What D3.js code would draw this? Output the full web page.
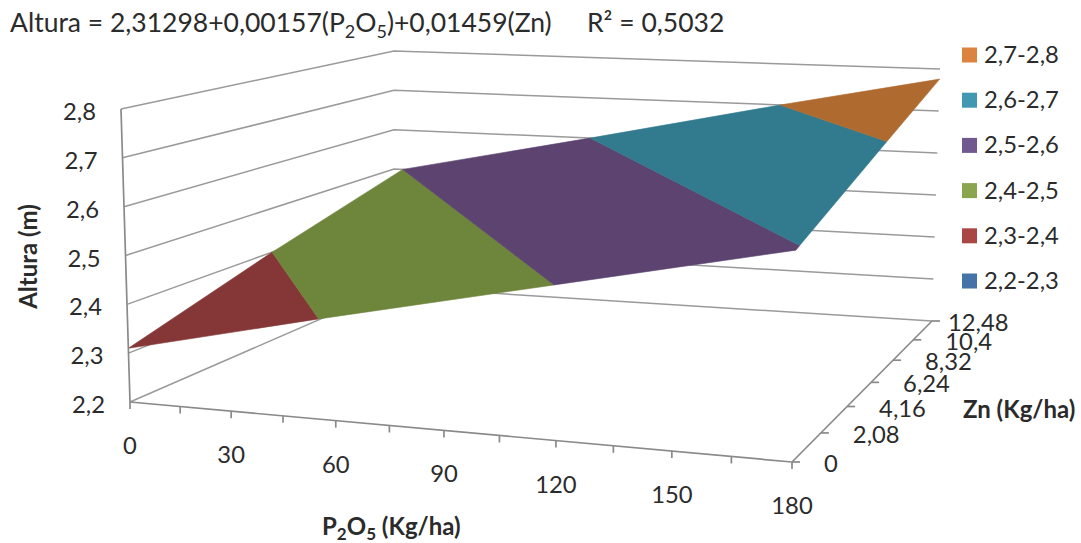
<!DOCTYPE html>
<html><head><meta charset="utf-8">
<style>
html,body{margin:0;padding:0;background:#fff;overflow:hidden}
svg{display:block}
text{font-family:Lato,"Open Sans",sans-serif;fill:#2b2b2b}
</style>
<script src="https://cdn.jsdelivr.net/npm/d3@7/dist/d3.min.js"></script>
</head><body><svg id="c" width="1081" height="543"></svg>
<script>
// ---- values ----
const pTicks = [0,15,30,45,60,75,90,105,120,135,150,165,180];
const pLabels = [0,30,60,90,120,150,180];
const znTicks = [0,2.08,4.16,6.24,8.32,10.4,12.48];
const znLabels = ["0","2,08","4,16","6,24","8,32","10,4","12,48"];
const alturaTicks = [2.2,2.3,2.4,2.5,2.6,2.7,2.8];
const alturaLabels = ["2,2","2,3","2,4","2,5","2,6","2,7","2,8"];
const legendLabels = ["2,7-2,8","2,6-2,7","2,5-2,6","2,4-2,5","2,3-2,4","2,2-2,3"];
const legendColors = ["#dc8340","#4298b0","#71588f","#89a54e","#aa4643","#4572a7"];
// surface bands: [P2O5, Zn, Altura] vertices
const band23 = [[0,0,2.31],[0,6.05,2.4],[56.7,0,2.4]];
const band24 = [[0,6.05,2.4],[3.2,12.48,2.5],[120.6,0,2.5],[56.7,0,2.4]];
const band25 = [[3.2,12.48,2.5],[69.3,12.48,2.6],[180,0.25,2.6],[180,0,2.596],[120.6,0,2.5]];
const band26 = [[69.3,12.48,2.6],[131.4,12.48,2.7],[180,7.11,2.7],[180,0.25,2.6]];
const band27 = [[131.4,12.48,2.7],[180,12.48,2.776],[180,7.11,2.7]];
const bands = [band23,band24,band25,band26,band27];
const bandColors = ["#853636","#6e853c","#5c4370","#327a8d","#af6a2f"];

// ---- layout ----
const floorQuad = [[130,402],[792,462],[932,321],[394,287]];
const ceilQuad  = [[121,109],[798,141],[940,69],[394,51]];
const frontPerspective = 0.902;
const svg=d3.select("#c");

const uScale=d3.scaleLinear().domain([0,180]).range([0,1]);
const vScale=d3.scaleLinear().domain([0,12.48]).range([0,1]);
const wScale=d3.scaleLinear().domain([2.2,2.8]).range([0,1]);

function homography(q){
  const [p00,p10,p11,p01]=q;
  const dx1=p10[0]-p11[0],dx2=p01[0]-p11[0],sx=p00[0]-p10[0]+p11[0]-p01[0];
  const dy1=p10[1]-p11[1],dy2=p01[1]-p11[1],sy=p00[1]-p10[1]+p11[1]-p01[1];
  const det=dx1*dy2-dx2*dy1;
  const g=(sx*dy2-dx2*sy)/det,h=(dx1*sy-sx*dy1)/det;
  const a=p10[0]-p00[0]+g*p10[0],b=p01[0]-p00[0]+h*p01[0];
  const d=p10[1]-p00[1]+g*p10[1],e=p01[1]-p00[1]+h*p01[1];
  return (u,v)=>{const D=1+g*u+h*v;return [(p00[0]+a*u+b*v)/D,(p00[1]+d*u+e*v)/D];};
}
const hFloor=homography(floorQuad),hCeil=homography(ceilQuad);
function project(p,zn,alt){
  const u=uScale(p),v=vScale(zn),w=wScale(alt);
  const f=hFloor(u,v),c=hCeil(u,v);
  return [f[0]+(c[0]-f[0])*w,f[1]+(c[1]-f[1])*w];
}
// position of a P2O5 tick along the front edge of the floor
function frontEdge(p){
  const u=uScale(p),k=frontPerspective,t=k*u/(1-u+k*u);
  const a=project(0,0,2.2),b=project(180,0,2.2);
  return [a[0]+(b[0]-a[0])*t,a[1]+(b[1]-a[1])*t];
}
const line=d3.line();
const gridColor="#9a9a9a",axisColor="#8a8a8a";

// wall gridlines
const gGrid=svg.append("g").attr("fill","none").attr("stroke",gridColor).attr("stroke-width",1.5);
gGrid.selectAll("path").data(alturaTicks).join("path")
  .attr("d",z=>line([project(0,0,z),project(0,12.48,z),project(180,12.48,z)]));

// surface
svg.append("g").selectAll("path").data(bands).join("path")
  .attr("d",b=>line(b.map(d=>project(d[0],d[1],d[2])))+"Z")
  .attr("fill",(b,i)=>bandColors[i])
  .attr("stroke",(b,i)=>bandColors[i]).attr("stroke-width",0.6);

// axes
const gAxis=svg.append("g").attr("fill","none").attr("stroke",axisColor).attr("stroke-width",1.7);
gAxis.append("path").attr("d",line([project(0,0,2.2),project(0,0,2.8)]));
gAxis.append("path").attr("d",line([project(0,0,2.2),project(180,0,2.2)]));
gAxis.append("path").attr("d",line([project(180,0,2.2),project(180,12.48,2.2)]));
gAxis.selectAll(".pt").data(pTicks).join("path").attr("class","pt")
  .attr("d",p=>{const a=frontEdge(p);return line([a,[a[0],a[1]+7]]);});
gAxis.selectAll(".zt").data(znTicks).join("path").attr("class","zt")
  .attr("d",z=>{const a=project(180,z,2.2);return line([a,[a[0]+8,a[1]]]);});

const fs=23.8, fb=24;
// altura labels
svg.append("g").selectAll("text").data(alturaTicks).join("text")
  .attr("x",z=>project(0,0,z)[0]-25).attr("y",z=>project(0,0,z)[1]+11)
  .attr("text-anchor","end").attr("font-size",fs)
  .text((z,i)=>alturaLabels[i]);
// P labels
svg.append("g").selectAll("text").data(pLabels).join("text")
  .attr("x",p=>frontEdge(p)[0]).attr("y",p=>frontEdge(p)[1]+52)
  .attr("text-anchor","middle").attr("font-size",fs)
  .text(p=>p);
// Zn labels
svg.append("g").selectAll("text").data(znTicks).join("text")
  .attr("x",(z,i)=>project(180,z,2.2)[0]+(i===6?16:32)).attr("y",z=>project(180,z,2.2)[1]+10)
  .attr("font-size",fs)
  .text((z,i)=>znLabels[i]);

// axis titles
svg.append("text").attr("transform","translate(37,256.5) rotate(-90)")
  .attr("text-anchor","middle").attr("font-size",fb).attr("font-weight","700").text("Altura (m)");
const pt=svg.append("text").attr("x",322).attr("y",535).attr("font-size",fb).attr("font-weight","700");
pt.append("tspan").text("P");
pt.append("tspan").attr("dy",5).attr("font-size",17).text("2");
pt.append("tspan").attr("dy",-5).text("O");
pt.append("tspan").attr("dy",5).attr("font-size",17).text("5");
pt.append("tspan").attr("dy",-5).text(" (Kg/ha)");
svg.append("text").attr("x",963).attr("y",418).attr("font-size",fb).attr("font-weight","700").text("Zn (Kg/ha)");

// title
const ts=26.5;
const t=svg.append("text").attr("x",10).attr("y",32).attr("font-size",ts);
t.append("tspan").text("Altura = 2,31298+0,00157(P");
t.append("tspan").attr("dy",6).attr("font-size",18).text("2");
t.append("tspan").attr("dy",-6).text("O");
t.append("tspan").attr("dy",6).attr("font-size",18).text("5");
t.append("tspan").attr("dy",-6).text(")+0,01459(Zn)");
svg.append("text").attr("x",587).attr("y",32).attr("font-size",ts).text("R² = 0,5032");

// legend
const legendY=d3.scalePoint().domain(legendLabels).range([55,281]);
const lg=svg.append("g").selectAll("g").data(legendLabels).join("g")
  .attr("transform",d=>`translate(962,${legendY(d)})`);
lg.append("rect").attr("x",0).attr("y",-7.5).attr("width",15).attr("height",15)
  .attr("fill",(d,i)=>legendColors[i]);
lg.append("text").attr("x",22).attr("y",8).attr("font-size",fs).text(d=>d);
</script></body></html>
